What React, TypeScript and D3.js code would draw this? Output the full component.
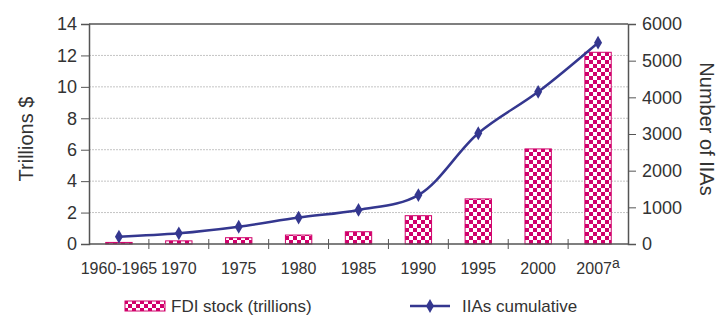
import { useEffect, useRef } from "react";
import * as d3 from "d3";

// ----- data -----
const categories = ["1960-1965", "1970", "1975", "1980", "1985", "1990", "1995", "2000", "2007"];
const fdiStock = [0.1, 0.2, 0.4, 0.57, 0.78, 1.8, 2.87, 6.05, 12.2];
const iiasCumulative = [200, 290, 470, 720, 930, 1335, 3020, 4150, 5490];
const leftTicks = [0, 2, 4, 6, 8, 10, 12, 14];
const rightTicks = [0, 1000, 2000, 3000, 4000, 5000, 6000];

const MAGENTA = "#d1006b";
const NAVY = "#34378f";
const AXIS = "#555";

const App = () => {
  const svgRef = useRef<SVGSVGElement | null>(null);

  useEffect(() => {
    const W = 723;
    const H = 317;
    const margin = { top: 24, right: 95, bottom: 73, left: 89 };
    const width = W - margin.left - margin.right;
    const height = H - margin.top - margin.bottom;

    const root = d3.select(svgRef.current);
    root.selectAll("*").remove();
    root.attr("width", W).attr("height", H).style("font-family", "Arial, 'Liberation Sans', sans-serif");

    // checker pattern for bars
    const defs = root.append("defs");
    const pat = defs
      .append("pattern")
      .attr("id", "checker")
      .attr("patternUnits", "userSpaceOnUse")
      .attr("width", 8)
      .attr("height", 8);
    pat.append("rect").attr("width", 8).attr("height", 8).attr("fill", "#fff");
    pat.append("rect").attr("width", 4).attr("height", 4).attr("fill", MAGENTA);
    pat.append("rect").attr("x", 4).attr("y", 4).attr("width", 4).attr("height", 4).attr("fill", MAGENTA);

    const svg = root.append("g").attr("transform", `translate(${margin.left},${margin.top})`);

    const x = d3.scaleBand().domain(categories).range([0, width]).padding(0);
    const yL = d3.scaleLinear().domain([0, 14]).range([height, 0]);
    const yR = d3.scaleLinear().domain([0, 6000]).range([height, 0]);

    // gridlines
    svg
      .selectAll(".grid")
      .data(leftTicks.filter((t) => t > 0 && t < 14))
      .enter()
      .append("line")
      .attr("x1", 0)
      .attr("x2", width)
      .attr("y1", (d) => yL(d))
      .attr("y2", (d) => yL(d))
      .attr("stroke", "#c4c4c4")
      .attr("stroke-width", 1)
      .attr("stroke-dasharray", "2,1");

    // bars
    const barW = x.bandwidth() * 0.44;
    svg
      .selectAll(".bar")
      .data(categories)
      .enter()
      .append("rect")
      .attr("class", "bar")
      .attr("x", (d) => x(d)! + (x.bandwidth() - barW) / 2)
      .attr("y", (d, i) => yL(fdiStock[i]))
      .attr("width", barW)
      .attr("height", (d, i) => height - yL(fdiStock[i]))
      .attr("fill", "url(#checker)")
      .attr("stroke", MAGENTA)
      .attr("stroke-width", 1);

    // top frame
    svg.append("line").attr("x1", 0).attr("x2", width).attr("y1", 0).attr("y2", 0).attr("stroke", AXIS).attr("stroke-width", 1.5);

    // left axis
    const gl = svg.append("g").call(d3.axisLeft(yL).tickValues(leftTicks).tickSize(8).tickPadding(4));
    gl.selectAll("text").attr("font-size", 18).attr("fill", "#333");
    gl.select(".domain").attr("stroke", AXIS).attr("stroke-width", 1.5);
    gl.selectAll(".tick line").attr("stroke", AXIS);

    // right axis
    const gr = svg
      .append("g")
      .attr("transform", `translate(${width},0)`)
      .call(d3.axisRight(yR).tickValues(rightTicks).tickFormat(d3.format("d")).tickSize(8).tickPadding(6));
    gr.selectAll("text").attr("font-size", 18).attr("fill", "#333");
    gr.select(".domain").attr("stroke", AXIS).attr("stroke-width", 1.5);
    gr.selectAll(".tick line").attr("stroke", AXIS);

    // bottom axis: ticks at band boundaries
    svg
      .append("line")
      .attr("x1", 0)
      .attr("x2", width)
      .attr("y1", height)
      .attr("y2", height)
      .attr("stroke", AXIS)
      .attr("stroke-width", 1.5);
    svg
      .selectAll(".xtick")
      .data(categories.slice(1))
      .enter()
      .append("line")
      .attr("x1", (d) => x(d)!)
      .attr("x2", (d) => x(d)!)
      .attr("y1", height - 5)
      .attr("y2", height + 5)
      .attr("stroke", AXIS);
    const xl = svg
      .selectAll(".xlab")
      .data(categories)
      .enter()
      .append("text")
      .attr("x", (d) => x(d)! + x.bandwidth() / 2)
      .attr("y", height + 30)
      .attr("text-anchor", "middle")
      .attr("font-size", 16)
      .attr("fill", "#333");
    xl.append("tspan").text((d) => d);
    xl.filter((d) => d === "2007")
      .append("tspan")
      .attr("dy", -6)
      .attr("font-size", 14)
      .text("a");

    // line
    const pts: [number, number][] = categories.map((c, i) => [x(c)! + x.bandwidth() / 2, yR(iiasCumulative[i])]);
    svg
      .append("path")
      .attr("d", d3.line().curve(d3.curveCatmullRom.alpha(0.5))(pts))
      .attr("fill", "none")
      .attr("stroke", NAVY)
      .attr("stroke-width", 2.5);
    const diamond = d3.symbol().type(d3.symbolDiamond).size(55);
    svg
      .selectAll(".pt")
      .data(pts)
      .enter()
      .append("path")
      .attr("transform", (d) => `translate(${d[0]},${d[1]})`)
      .attr("d", diamond())
      .attr("fill", NAVY);

    // axis titles
    root
      .append("text")
      .attr("transform", `translate(33,139) rotate(-90)`)
      .attr("text-anchor", "middle")
      .attr("font-size", 20)
      .attr("fill", "#333")
      .text("Trillions $");
    root
      .append("text")
      .attr("transform", `translate(700,129) rotate(90)`)
      .attr("text-anchor", "middle")
      .attr("font-size", 20)
      .attr("fill", "#333")
      .text("Number of IIAs");

    // legend
    const ly = 306;
    root
      .append("rect")
      .attr("x", 125)
      .attr("y", ly - 5)
      .attr("width", 40)
      .attr("height", 10)
      .attr("fill", "url(#checker)")
      .attr("stroke", MAGENTA);
    root
      .append("text")
      .attr("x", 171)
      .attr("y", ly + 6)
      .attr("font-size", 17)
      .attr("fill", "#333")
      .text("FDI stock (trillions)");
    root
      .append("line")
      .attr("x1", 410)
      .attr("x2", 450)
      .attr("y1", ly)
      .attr("y2", ly)
      .attr("stroke", NAVY)
      .attr("stroke-width", 2.5);
    root
      .append("path")
      .attr("transform", `translate(430,${ly})`)
      .attr("d", diamond())
      .attr("fill", NAVY);
    root
      .append("text")
      .attr("x", 462)
      .attr("y", ly + 6)
      .attr("font-size", 17)
      .attr("fill", "#333")
      .text("IIAs cumulative");
  }, []);

  return (
    <div style={{ position: "absolute", left: 0, top: 0 }}>
      <svg ref={svgRef}></svg>
    </div>
  );
};

export default App;
